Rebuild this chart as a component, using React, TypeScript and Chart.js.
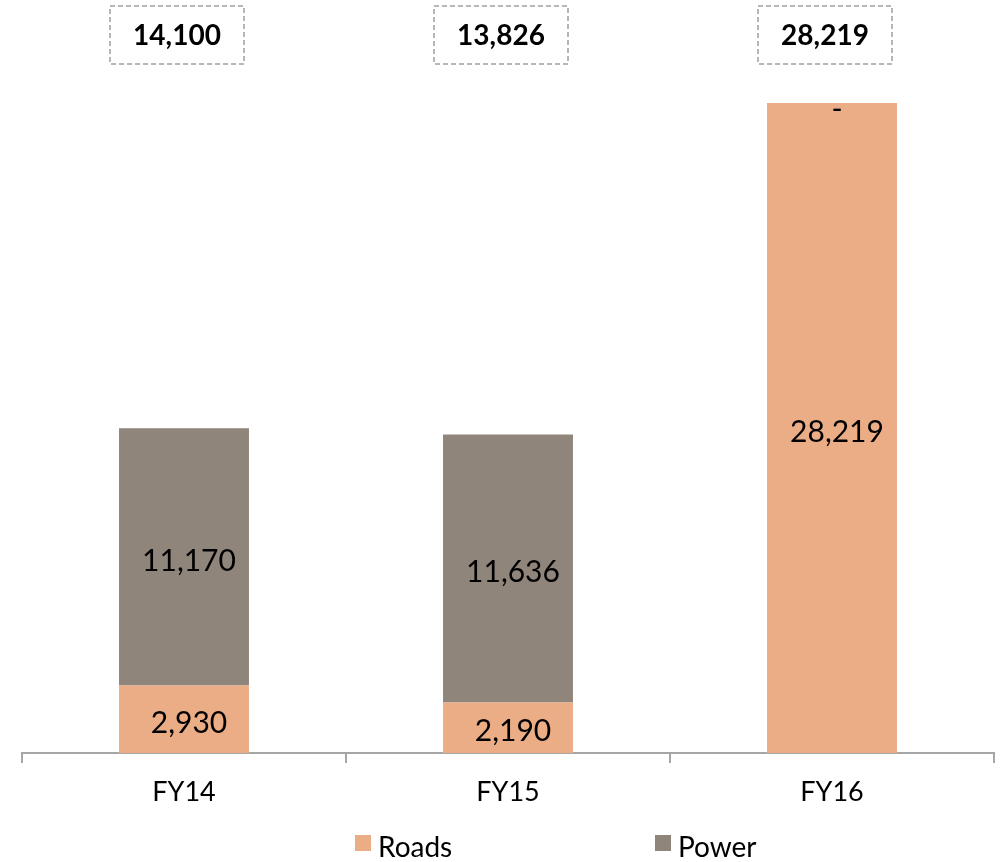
import React, { useEffect, useRef } from "react";
import { Chart, registerables } from "chart.js";

Chart.register(...registerables);

const categories = ["FY14", "FY15", "FY16"];
const roads = [2930, 2190, 28219];
const power = [11170, 11636, 0];
const totals = [14100, 13826, 28219];
const seriesNames = ["Roads", "Power"];
const seriesColors = ["#EBAD86", "#8F857A"];

const FONT = "Lato, 'Open Sans', sans-serif";
const fmt = (v: number) => (v === 0 ? "-" : v.toLocaleString("en-US"));

const labelsPlugin = {
  id: "customLabels",
  afterDatasetsDraw(chart: any) {
    const ctx = chart.ctx;
    ctx.save();
    chart.data.datasets.forEach((ds: any, di: number) => {
      const meta = chart.getDatasetMeta(di);
      meta.data.forEach((el: any, i: number) => {
        const v = ds.data[i];
        const y = (el.y + el.base) / 2 + (v === 0 ? 6 : 4);
        ctx.font = `30px ${FONT}`;
        ctx.fillStyle = "#000";
        ctx.textAlign = "center";
        ctx.textBaseline = "middle";
        ctx.fillText(fmt(v), el.x + 5, y);
      });
    });
    const meta0 = chart.getDatasetMeta(0);
    const top = chart.chartArea.top;
    meta0.data.forEach((el: any, i: number) => {
      const cx = el.x - 7;
      const cy = top - 27;
      const w = 134;
      const h = 58;
      ctx.setLineDash([5, 3]);
      ctx.strokeStyle = "#A0A0A0";
      ctx.lineWidth = 1.5;
      ctx.strokeRect(cx - w / 2, cy - h / 2, w, h);
      ctx.setLineDash([]);
      ctx.font = `bold 28px ${FONT}`;
      ctx.fillStyle = "#000";
      ctx.textAlign = "center";
      ctx.textBaseline = "middle";
      ctx.fillText(totals[i].toLocaleString("en-US"), cx, cy + 1);
    });
    ctx.restore();
  },
  afterDraw(chart: any) {
    const ctx = chart.ctx;
    const ca = chart.chartArea;
    const center = (ca.left + ca.right) / 2;
    const offsets = [-153, 147];
    const y = chart.height - 14;
    ctx.save();
    seriesNames.forEach((name, i) => {
      const bx = center + offsets[i];
      ctx.fillStyle = seriesColors[i];
      ctx.fillRect(bx, y - 13, 16, 16);
      ctx.font = `28px ${FONT}`;
      ctx.fillStyle = "#000";
      ctx.textAlign = "left";
      ctx.textBaseline = "middle";
      ctx.fillText(name, bx + 23, y);
    });
    ctx.restore();
  },
};

export default function App() {
  const ref = useRef<HTMLCanvasElement>(null);
  useEffect(() => {
    if (!ref.current) return;
    const chart = new Chart(ref.current, {
      type: "bar",
      data: {
        labels: categories,
        datasets: [
          {
            label: seriesNames[0],
            data: roads,
            backgroundColor: seriesColors[0],
            categoryPercentage: 1,
            barPercentage: 0.401,
          },
          {
            label: seriesNames[1],
            data: power,
            backgroundColor: seriesColors[1],
            categoryPercentage: 1,
            barPercentage: 0.401,
          },
        ],
      },
      options: {
        animation: false,
        responsive: false,
        maintainAspectRatio: false,
        layout: { padding: { top: 62, left: 22, right: 9, bottom: 0 } },
        plugins: {
          legend: { display: false },
          tooltip: { enabled: false },
        },
        scales: {
          x: {
            stacked: true,
            grid: {
              display: true,
              offset: true,
              drawOnChartArea: false,
              drawTicks: true,
              tickLength: 10,
              color: "#A6A6A6",
              lineWidth: 2,
            },
            border: { display: true, color: "#A6A6A6", width: 2 },
            ticks: {
              color: "#000",
              font: { family: FONT, size: 27 },
              padding: 13,
            },
            afterFit(scale: any) {
              scale.height = 109;
            },
          },
          y: {
            stacked: true,
            display: false,
            min: 0,
            max: 30000,
          },
        },
      },
      plugins: [labelsPlugin],
    });
    return () => chart.destroy();
  }, []);
  return (
    <div style={{ position: "absolute", left: 0, top: 0, width: 1003, height: 862, overflow: "hidden" }}>
      <canvas ref={ref} width={1003} height={862} style={{ display: "block" }} />
    </div>
  );
}
